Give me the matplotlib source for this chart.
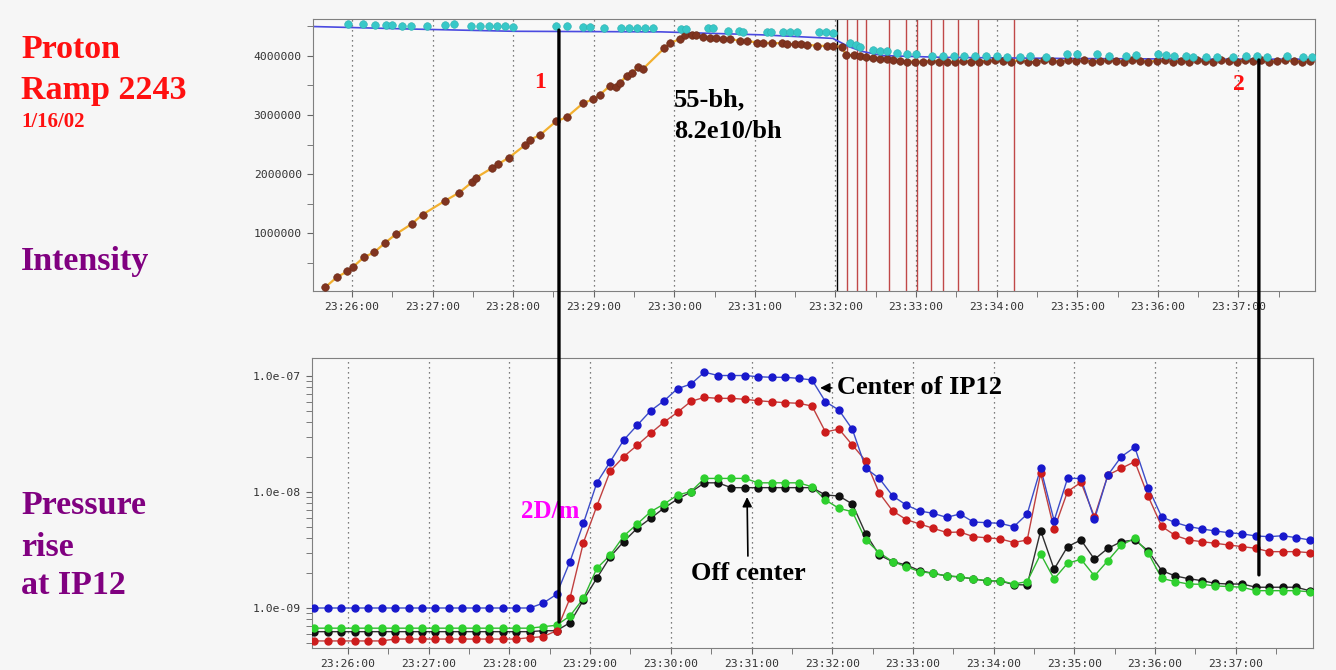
import numpy as np
import matplotlib.pyplot as plt
from matplotlib.patches import ConnectionPatch
from matplotlib.ticker import MultipleLocator, LogLocator, NullFormatter

# time is in seconds after 23:25:00
tick_secs = [60, 120, 180, 240, 300, 360, 420, 480, 540, 600, 660, 720]
tick_labels = ["23:26:00", "23:27:00", "23:28:00", "23:29:00", "23:30:00", "23:31:00",
               "23:32:00", "23:33:00", "23:34:00", "23:35:00", "23:36:00", "23:37:00"]

# ---- intensity (units of 1e6) ----
ramp_t = [40, 48.6, 56.5, 60.5, 68.9, 76.4, 84.6, 92.8, 104.4, 112.6,
          129.2, 139.9, 149.1, 152.3, 164, 168.9, 176.9, 188.8, 192.5, 200,
          211.9, 219.8, 232.2, 239.2, 244.6, 252, 256.5, 259.5, 264.5, 268.2,
          273.1, 276.9, 292.3, 296.7, 304.2, 307.9, 312.9, 316, 321.5, 326.5,
          331, 336, 341.4, 348.8, 353.8, 361.3, 366, 372.4, 379.9, 384,
          389.8, 394, 398.5, 405.9, 413.4, 418, 424.5]
ramp_v = [0.09, 0.26, 0.36, 0.43, 0.60, 0.68, 0.84, 0.99, 1.16, 1.32,
          1.55, 1.69, 1.86, 1.94, 2.10, 2.17, 2.28, 2.49, 2.58, 2.66,
          2.89, 2.96, 3.20, 3.26, 3.34, 3.49, 3.47, 3.54, 3.66, 3.71,
          3.80, 3.78, 4.12, 4.21, 4.28, 4.35, 4.35, 4.34, 4.32, 4.29,
          4.29, 4.28, 4.28, 4.25, 4.25, 4.22, 4.22, 4.21, 4.21, 4.20,
          4.19, 4.19, 4.18, 4.17, 4.16, 4.16, 4.15]
store_t = [428, 434, 438, 443, 448, 453, 458, 463, 468, 473,
           479, 485, 491, 497, 503, 509, 515, 521, 527, 533,
           539, 545, 551, 557, 563, 569, 575, 581, 587, 593,
           599, 605, 611, 617, 623, 629, 635, 641, 647, 653,
           659, 665, 671, 677, 683, 689, 695, 701, 707, 713,
           719, 725, 731, 737, 743, 749, 755, 761, 767, 773]
store_v = [4.01, 4.01, 4.00, 3.98, 3.96, 3.95, 3.94, 3.93, 3.91, 3.90,
           3.90, 3.90, 3.91, 3.90, 3.89, 3.90, 3.91, 3.90, 3.90, 3.91,
           3.92, 3.91, 3.90, 3.92, 3.90, 3.89, 3.92, 3.91, 3.90, 3.92,
           3.91, 3.92, 3.90, 3.91, 3.92, 3.91, 3.90, 3.92, 3.91, 3.90,
           3.91, 3.92, 3.90, 3.91, 3.90, 3.92, 3.91, 3.90, 3.92, 3.91,
           3.90, 3.92, 3.91, 3.92, 3.90, 3.91, 3.92, 3.91, 3.90, 3.91]
cyan_t = [57, 68, 77, 85, 90, 97, 104, 116, 129, 136,
          149, 155, 162, 168, 174, 180, 212, 220, 232, 237,
          248, 260, 266, 272, 278, 284, 305, 309, 325, 329,
          340, 348, 351, 369, 372, 381, 386, 391, 408, 413,
          418, 431, 435, 438, 448, 453, 458, 466, 473, 480,
          492, 500, 508, 516, 524, 532, 540, 548, 557, 565,
          577, 592, 600, 615, 624, 636, 644, 660, 666, 672,
          681, 686, 696, 704, 716, 726, 734, 741, 756, 768, 775]
cyan_v = [4.53, 4.53, 4.52, 4.52, 4.52, 4.50, 4.50, 4.50, 4.51, 4.53,
          4.50, 4.50, 4.50, 4.50, 4.50, 4.49, 4.50, 4.50, 4.48, 4.48,
          4.46, 4.46, 4.46, 4.46, 4.46, 4.46, 4.44, 4.45, 4.46, 4.46,
          4.42, 4.42, 4.40, 4.40, 4.40, 4.40, 4.40, 4.40, 4.39, 4.39,
          4.38, 4.21, 4.18, 4.15, 4.09, 4.08, 4.08, 4.04, 4.03, 4.03,
          4.00, 4.00, 3.99, 4.00, 3.99, 4.00, 3.99, 3.98, 3.98, 3.99,
          3.98, 4.03, 4.03, 4.02, 4.00, 4.00, 4.01, 4.02, 4.01, 4.00,
          4.00, 3.98, 3.98, 3.98, 3.98, 3.99, 3.99, 3.98, 3.99, 3.98, 3.98]
dcct_t = [31, 100, 180, 290, 365, 418, 430, 440, 455, 500, 600, 700, 777]
dcct_v = [4.49, 4.45, 4.41, 4.40, 4.35, 4.29, 4.15, 4.07, 4.00, 3.97, 3.95, 3.94, 3.94]

# abort / kicker markers on the intensity plot
first_mark = 420.8
kick_t = [428.3, 435.7, 442.4, 460.0, 472.4, 480.4, 490.8, 500.2, 510.9, 525.8, 552.8]

# ---- pressure at IP12 (units of 1e-9), one reading every 10 s from 23:25:35 ----
p_t = np.arange(75) * 10 + 35
p_blue = [1.0, 1.0, 1.0, 1.0, 1.0, 1.0, 1.0, 1.0, 1.0, 1.0,
          1.0, 1.0, 1.0, 1.0, 1.0, 1.0, 1.0, 1.1, 1.31, 2.51,
          5.37, 12.0, 18.3, 28.1, 37.6, 50.2, 61.2, 77.8, 85.3, 108,
          101, 101, 101, 98.6, 97.5, 97.5, 95.5, 92.4, 60.0, 50.9,
          34.7, 16.0, 13.1, 9.24, 7.73, 6.86, 6.55, 6.05, 6.46, 5.51,
          5.44, 5.37, 5.02, 6.46, 16.0, 5.66, 13.1, 13.1, 5.82, 14.0,
          20.2, 24.3, 10.9, 6.09, 5.46, 5.04, 4.80, 4.61, 4.46, 4.35,
          4.18, 4.12, 4.20, 4.04, 3.86]
p_red = [0.52, 0.52, 0.52, 0.52, 0.52, 0.52, 0.54, 0.54, 0.54, 0.54,
         0.54, 0.54, 0.54, 0.54, 0.54, 0.54, 0.555, 0.566, 0.637, 1.21,
         3.66, 7.57, 15.2, 20.2, 25.3, 32.1, 40.1, 48.7, 60.5, 65.5,
         64.2, 64.2, 63.0, 61.2, 60.0, 58.9, 58.2, 55.1, 32.9, 34.9,
         25.4, 18.5, 9.8, 6.86, 5.79, 5.30, 4.87, 4.48, 4.52, 4.12,
         4.03, 3.94, 3.67, 3.86, 14.5, 4.77, 10.1, 12.1, 6.12, 14.0,
         16.0, 18.3, 9.15, 5.06, 4.22, 3.86, 3.73, 3.61, 3.49, 3.38,
         3.27, 3.06, 3.06, 3.06, 3.00]
p_green = [0.67, 0.67, 0.67, 0.67, 0.67, 0.67, 0.67, 0.67, 0.67, 0.67,
           0.67, 0.67, 0.67, 0.67, 0.67, 0.67, 0.67, 0.69, 0.71, 0.853,
           1.21, 2.20, 2.86, 4.18, 5.30, 6.76, 7.88, 9.42, 10.1, 13.1,
           13.1, 13.1, 13.1, 12.0, 12.0, 12.0, 12.0, 11.1, 8.53, 7.23,
           6.76, 3.86, 3.00, 2.51, 2.27, 2.06, 1.99, 1.89, 1.86, 1.78,
           1.72, 1.72, 1.61, 1.69, 2.92, 1.78, 2.43, 2.63, 1.89, 2.56,
           3.49, 3.99, 2.98, 1.80, 1.69, 1.61, 1.60, 1.55, 1.53, 1.51,
           1.41, 1.41, 1.41, 1.41, 1.38]
p_black = [0.625, 0.625, 0.625, 0.625, 0.625, 0.625, 0.625, 0.625, 0.625, 0.625,
           0.625, 0.625, 0.625, 0.625, 0.625, 0.625, 0.625, 0.637, 0.637, 0.747,
           1.17, 1.81, 2.77, 3.74, 4.87, 5.93, 7.28, 8.70, 10.0, 12.0,
           12.0, 10.9, 10.9, 10.9, 10.9, 10.9, 10.9, 10.9, 9.42, 9.24,
           7.88, 4.35, 2.86, 2.51, 2.35, 2.10, 1.99, 1.89, 1.85, 1.78,
           1.71, 1.71, 1.59, 1.58, 4.64, 2.16, 3.38, 3.86, 2.63, 3.27,
           3.73, 3.86, 3.10, 2.10, 1.89, 1.79, 1.72, 1.63, 1.61, 1.61,
           1.51, 1.51, 1.51, 1.51, 1.41]

serif = "Liberation Serif"
tick_font = dict(fontsize=8.2, color="#333333", family="DejaVu Sans Mono")

fig = plt.figure(figsize=(13.36, 6.70), dpi=100, facecolor="#f6f6f6")
ax1 = fig.add_axes([313 / 1336, 1 - 291 / 670, 1002 / 1336, 272 / 670])
ax2 = fig.add_axes([312 / 1336, 1 - 648 / 670, 1001 / 1336, 290 / 670])

for ax in (ax1, ax2):
    ax.set_facecolor("#f8f8f8")
    for sp in ax.spines.values():
        sp.set_color("#808080")
    ax.set_xticks(tick_secs)
    ax.set_xticklabels(tick_labels, **tick_font)
    ax.xaxis.set_minor_locator(MultipleLocator(30))
    ax.tick_params(which="both", direction="out", length=4, color="#666666", pad=4)
    ax.grid(axis="x", which="major", linestyle=(0, (1, 3)), color="#555555", lw=0.9)

# intensity panel
ax1.set_xlim(31, 777)
ax1.set_ylim(0.03e6, 4.617e6)
ax1.set_yticks([1e6, 2e6, 3e6, 4e6])
ax1.set_yticklabels(["1000000", "2000000", "3000000", "4000000"], **tick_font)
ax1.yaxis.set_minor_locator(MultipleLocator(0.5e6))

ax1.axvline(first_mark, color="black", lw=1, zorder=1.5)
for t in kick_t:
    ax1.axvline(t, color="#c04848", lw=1, zorder=1.5)

ax1.plot(dcct_t, np.array(dcct_v) * 1e6, color="#4a4ae0", lw=1.2, zorder=2)
bunched_t = ramp_t + store_t
bunched_v = np.array(ramp_v + store_v) * 1e6
ax1.plot(bunched_t, bunched_v, color="#f2b030", lw=1.6, zorder=2.5)
ax1.plot(bunched_t, bunched_v, "o", color="#803420", ms=5.5, mec="#6a2a18", mew=0.4, zorder=3)
ax1.plot(cyan_t, np.array(cyan_v) * 1e6, "o", color="#38c8c8", ms=5.5, mec="#30b0b0", mew=0.4, zorder=3.5)

ax1.text(200, 3.54e6, "1", color="#ff1010", fontsize=17, fontweight="bold",
         family=serif, ha="center", va="center")
ax1.text(720, 3.52e6, "2", color="#ff1010", fontsize=17, fontweight="bold",
         family=serif, ha="center", va="center")
ax1.text(300, 3.25e6, "55-bh,", fontsize=19, fontweight="bold", family=serif,
         ha="left", va="center")
ax1.text(300, 2.72e6, "8.2e10/bh", fontsize=19, fontweight="bold", family=serif,
         ha="left", va="center")

# pressure panel
ax2.set_xlim(33.2, 777.5)
ax2.set_yscale("log")
ax2.set_ylim(4.52e-10, 1.43e-7)
ax2.set_yticks([1e-9, 1e-8, 1e-7])
ax2.set_yticklabels(["1.0e-09", "1.0e-08", "1.0e-07"], **tick_font)
ax2.yaxis.set_minor_locator(LogLocator(base=10, subs=np.arange(2, 10)))
ax2.yaxis.set_minor_formatter(NullFormatter())

series = [(p_black, "#101010", "#303030"), (p_green, "#2ed02e", "#30b830"),
          (p_red, "#cc1c1c", "#c04040"), (p_blue, "#1818cc", "#3c4cc8")]
for vals, dot, line in series:
    pv = np.array(vals) * 1e-9
    ax2.plot(p_t, pv, color=line, lw=1.0, zorder=2)
    ax2.plot(p_t, pv, "o", color=dot, ms=5, mec=dot, zorder=3)

ax2.text(210, 6.73e-9, "2D/m", color="#ff00ff", fontsize=18, fontweight="bold",
         family=serif, ha="center", va="center", zorder=1)
ax2.annotate("Center of IP12", xy=(411.0, 7.9e-8), xytext=(423.5, 7.9e-8),
             fontsize=19, fontweight="bold", family=serif, ha="left", va="center",
             arrowprops=dict(arrowstyle="-|>", color="black", lw=1.2,
                             mutation_scale=14, shrinkA=2, shrinkB=0))
ax2.annotate("Off center", xy=(356.7, 9.05e-9), xytext=(357.5, 2.0e-9),
             fontsize=19, fontweight="bold", family=serif, ha="center", va="center",
             arrowprops=dict(arrowstyle="-|>", color="black", lw=1.2,
                             mutation_scale=14, shrinkA=2, shrinkB=0))

# the two reference times, drawn through both panels
for (ta, ya), (tb, yb) in [((214.1, 4.43e6), (216.9, 7.57e-10)),
                           ((735.2, 3.926e6), (737.3, 1.93e-9))]:
    con = ConnectionPatch(xyA=(ta, ya), coordsA=ax1.transData,
                          xyB=(tb, yb), coordsB=ax2.transData,
                          color="black", lw=2.4, zorder=5)
    fig.add_artist(con)

# side captions
red = "#ff1010"
purple = "#800080"
caps = [("Proton", 49, red, 24.5), ("Ramp 2243", 90, red, 24.5), ("1/16/02", 122, red, 15),
        ("Intensity", 261, purple, 24.5), ("Pressure", 506, purple, 24.5),
        ("rise", 547, purple, 24.5), ("at IP12", 585, purple, 24.5)]
for txt, ypix, col, size in caps:
    fig.text(21 / 1336, 1 - ypix / 670, txt, color=col, fontsize=size,
             fontweight="bold", family=serif, ha="left", va="center")

fig.savefig("out.png", dpi=100, facecolor=fig.get_facecolor())
